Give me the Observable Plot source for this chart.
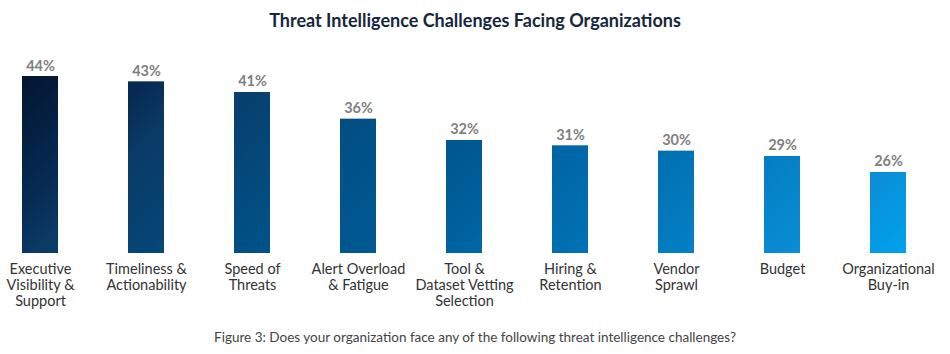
<!DOCTYPE html>
<html>
<head>
<meta charset="utf-8">
<script src="https://cdn.jsdelivr.net/npm/d3@7"></script>
<script src="https://cdn.jsdelivr.net/npm/@observablehq/plot@0.6"></script>
<style>
  html, body { margin: 0; padding: 0; background: #fff; }
  #wrap { width: 950px; height: 354px; position: relative; font-family: Lato, "Open Sans", sans-serif; }
  #title { height: 40px; line-height: 40px; text-align: center; font-weight: 700; font-size: 18px; color: #16263e; }
  #caption { height: 34px; line-height: 34px; text-align: center; font-size: 13.5px; color: #444; }
  svg { display: block; }
</style>
</head>
<body>
<div id="wrap">
  <div id="title">Threat Intelligence Challenges Facing Organizations</div>
  <div id="chart"></div>
  <div id="caption">Figure 3: Does your organization face any of the following threat intelligence challenges?</div>
</div>
<script>
const categories = [
  "Executive\nVisibility &\nSupport",
  "Timeliness &\nActionability",
  "Speed of\nThreats",
  "Alert Overload\n& Fatigue",
  "Tool &\nDataset Vetting\nSelection",
  "Hiring &\nRetention",
  "Vendor\nSprawl",
  "Budget",
  "Organizational\nBuy-in"
];
const values = [44, 43, 41, 36, 32, 31, 30, 29, 26];
const valueLabels = ["44%", "43%", "41%", "36%", "32%", "31%", "30%", "29%", "26%"];
const yBase = 10.8;

const data = categories.map((c, i) => ({category: c, value: values[i], label: valueLabels[i]}));

const chart = Plot.plot({
  width: 950,
  height: 280,
  marginLeft: 0,
  marginRight: 23,
  marginTop: 36,
  marginBottom: 67,
  x: {domain: categories, paddingInner: 0.662, paddingOuter: 0.178, axis: null},
  y: {domain: [yBase, 44], axis: null},
  marks: [
    Plot.barY(data, {x: "category", y1: yBase, y2: "value", fill: "url(#barGrad)"}),
    Plot.text(data, {x: "category", y: "value", text: "label", dy: -6, lineAnchor: "bottom",
      fill: "#7f7f7f", fontWeight: "bold", fontSize: 14.5}),
    Plot.text(data, {x: "category", y: yBase, text: "category", dy: 9, lineAnchor: "top",
      fill: "#333", fontSize: 14.5, lineHeight: 1.1})
  ],
  style: {fontFamily: "Lato, 'Open Sans', sans-serif", background: "#fff"}
});

const ns = "http://www.w3.org/2000/svg";
const defs = document.createElementNS(ns, "defs");
const grad = document.createElementNS(ns, "linearGradient");
grad.setAttribute("id", "barGrad");
grad.setAttribute("gradientUnits", "userSpaceOnUse");
grad.setAttribute("x1", "20"); grad.setAttribute("y1", "20");
grad.setAttribute("x2", "570"); grad.setAttribute("y2", "570");
[["0", "#02122b"], ["0.13", "#062a52"], ["0.19", "#0a3a66"], ["0.39", "#005288"], ["0.51", "#005a94"],
 ["0.58", "#0066a6"], ["0.68", "#0071b3"], ["0.89", "#0a8fd8"], ["1", "#00a6f2"]]
  .forEach(([o, c]) => {
    const s = document.createElementNS(ns, "stop");
    s.setAttribute("offset", o); s.setAttribute("stop-color", c);
    grad.appendChild(s);
  });
defs.appendChild(grad);
chart.insertBefore(defs, chart.firstChild);

document.getElementById("chart").appendChild(chart);
</script>
</body>
</html>
